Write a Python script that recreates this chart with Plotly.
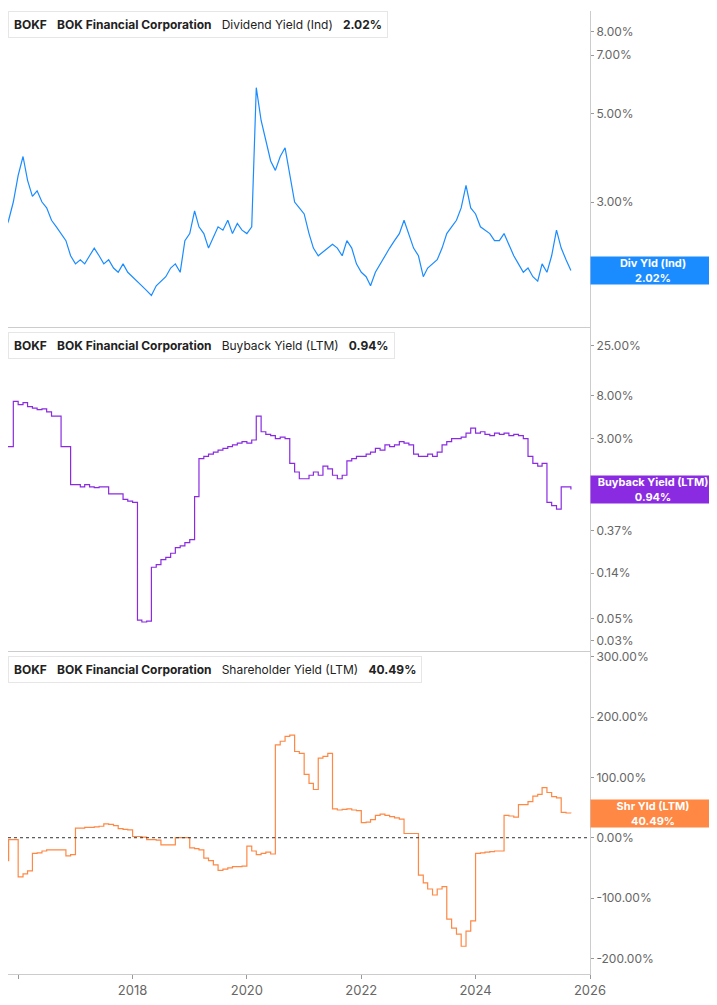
import math
import pandas as pd
import plotly.graph_objects as go

dates = pd.date_range("2015-09-01", periods=121, freq="MS")

div_yield = [2.6, 2.5, 2.7, 3.0,
             3.5, 3.9, 3.4, 3.1, 3.2, 3.0, 2.9, 2.7, 2.6, 2.5, 2.4, 2.2,
             2.1, 2.15, 2.1, 2.2, 2.3, 2.2, 2.1, 2.15, 2.05, 2.0, 2.1, 2.0,
             1.95, 1.9, 1.85, 1.8, 1.75, 1.85, 1.9, 1.95, 2.05, 2.1, 2.0, 2.4,
             2.5, 2.85, 2.6, 2.5, 2.3, 2.45, 2.6, 2.55, 2.7, 2.5, 2.65, 2.55,
             2.5, 2.6, 5.8, 4.8, 4.3, 3.8, 3.6, 3.9, 4.1, 3.5, 3.0, 2.9,
             2.8, 2.5, 2.3, 2.2, 2.25, 2.3, 2.35, 2.3, 2.2, 2.4, 2.3, 2.1,
             2.0, 1.95, 1.85, 2.0, 2.1, 2.2, 2.3, 2.4, 2.5, 2.7, 2.5, 2.3,
             2.2, 1.95, 2.05, 2.1, 2.15, 2.3, 2.5, 2.6, 2.7, 2.9, 3.3, 2.9,
             2.8, 2.6, 2.55, 2.5, 2.4, 2.4, 2.5, 2.35, 2.2, 2.1, 2.0, 2.05,
             1.95, 1.9, 2.1, 2.0, 2.2, 2.55, 2.3, 2.15, 2.02]

buyback_yield = [0.73, 2.5, 2.5, 7.0,
                 6.5, 6.8, 6.2, 6.0, 5.8, 5.9, 5.5, 5.0, 5.0, 2.5, 2.5, 1.05,
                 1.05, 1.0, 1.05, 1.0, 0.98, 1.0, 1.0, 0.85, 0.85, 0.85, 0.75, 0.72,
                 0.7, 0.048, 0.046, 0.047, 0.16, 0.17, 0.19, 0.2, 0.22, 0.25, 0.26, 0.28,
                 0.3, 0.8, 1.9, 2.0, 2.1, 2.2, 2.3, 2.4, 2.5, 2.6, 2.7, 2.8,
                 2.7, 2.9, 5.0, 3.5, 3.3, 3.2, 3.0, 3.1, 3.0, 1.7, 1.4, 1.2,
                 1.2, 1.3, 1.4, 1.3, 1.6, 1.5, 1.3, 1.2, 1.3, 1.8, 1.9, 2.0,
                 2.0, 2.1, 2.2, 2.4, 2.3, 2.6, 2.5, 2.6, 2.8, 2.7, 2.6, 2.1,
                 2.0, 2.0, 2.1, 2.0, 2.2, 2.6, 2.8, 3.0, 3.0, 3.1, 3.4, 3.8,
                 3.4, 3.5, 3.3, 3.2, 3.4, 3.3, 3.4, 3.2, 3.3, 3.2, 3.0, 2.0,
                 1.7, 1.6, 1.7, 0.7, 0.65, 0.6, 1.0, 1.0, 0.94]

shareholder_yield = [-38, -38, -3, -3,
                     -65, -60, -55, -26, -25, -22, -20, -20, -20, -20, -30, -28,
                     16, 16, 17, 17, 18, 19, 23, 22, 20, 15, 14, 13,
                     2, 2, 1, -3, -3, -4, -12, -12, -12, 0, 0, 0,
                     -17, -18, -20, -34, -38, -45, -54, -52, -50, -48, -48, -47,
                     -14, -22, -28, -26, -24, -27, 154, 160, 168, 170, 143, 140,
                     105, 90, 80, 132, 135, 140, 48, 46, 47, 48, 46, 45,
                     25, 26, 30, 37, 39, 37, 35, 33, 31, 7, 7, 7,
                     -62, -75, -85, -95, -85, -81, -135, -150, -160, -180, -155, -138,
                     -26, -25, -24, -23, -22, -22, 37, 36, 34, 55, 55, 60,
                     69, 72, 83, 75, 68, 66, 42, 41, 40.49]

div_ticks = [2, 3, 5, 7, 8]
bb_ticks = [0.03, 0.05, 0.14, 0.37, 1.0, 3, 8, 25]
sh_ticks = [-200, -100, 0, 100, 200, 300]

C1, C2, C3 = "#1a8cff", "#8a2be2", "#ff8844"
H = 966.0
doms = [[1 - 317 / H, 1], [1 - 642 / H, 1 - 318 / H], [0, 1 - 643 / H]]

fig = go.Figure()
fig.add_trace(go.Scatter(x=dates, y=div_yield, mode="lines", line=dict(color=C1, width=1.2), xaxis="x", yaxis="y"))
fig.add_trace(go.Scatter(x=dates, y=buyback_yield, mode="lines", line=dict(color=C2, width=1.2, shape="hv"), xaxis="x2", yaxis="y2"))
fig.add_trace(go.Scatter(x=dates, y=shareholder_yield, mode="lines", line=dict(color=C3, width=1.2, shape="hv"), xaxis="x3", yaxis="y3"))

xr = ["2015-10-28", "2026-01-01"]
common_x = dict(range=xr, showgrid=False, zeroline=False, showline=True, linecolor="#cccccc", linewidth=1)
ytick = dict(side="right", showgrid=False, zeroline=False, showline=True, linecolor="#cccccc",
             ticks="outside", ticklen=3, tickcolor="#999999", tickfont=dict(family="Inter", size=12, color="#666666"))

fig.update_layout(
    width=717, height=1005, margin=dict(l=0, r=135, t=0, b=39),
    plot_bgcolor="white", paper_bgcolor="white", showlegend=False,
    xaxis=dict(**common_x, anchor="y", showticklabels=False, matches="x3"),
    xaxis2=dict(**common_x, anchor="y2", showticklabels=False, matches="x3"),
    xaxis3=dict(**common_x, anchor="y3", ticks="outside", ticklen=4, tickcolor="#999999",
                dtick="M24", tick0="2016-01-01", tickformat="%Y",
                tickfont=dict(family="Inter", size=13, color="#666666")),
    yaxis=dict(**ytick, domain=doms[0], type="log", range=[0.164, 0.9555],
               tickvals=div_ticks, ticktext=[f"{v:.2f}%" for v in div_ticks]),
    yaxis2=dict(**ytick, domain=doms[1], type="log", range=[-1.624, 1.57],
                tickvals=bb_ticks, ticktext=[f"{v:.2f}%" for v in bb_ticks]),
    yaxis3=dict(**ytick, domain=doms[2], range=[-226, 308],
                tickvals=sh_ticks, ticktext=[f"{v:.2f}%" for v in sh_ticks]),
)

fig.add_shape(type="line", xref="x3 domain", yref="y3", x0=0, x1=1, y0=0, y1=0,
              line=dict(color="#333333", width=1, dash="dot"))

legends = [
    ("Dividend Yield (Ind)", f"{div_yield[-1]:.2f}%", C1, doms[0][1], 0),
    ("Buyback Yield (LTM)", f"{buyback_yield[-1]:.2f}%", C2, doms[1][1], 4),
    ("Shareholder Yield (LTM)", f"{shareholder_yield[-1]:.2f}%", C3, doms[2][1], 4),
]
for name, val, col, top, off in legends:
    ytop = top - off / H
    fig.add_annotation(xref="paper", yref="paper", x=0.0, y=ytop, xanchor="left", yanchor="top",
                       text=f"<b>BOKF</b>   <b>BOK Financial Corporation</b>   {name}   <b>{val}</b>",
                       showarrow=False, bgcolor="white", bordercolor="#e6e6e6", borderwidth=1, borderpad=5,
                       font=dict(family="Inter", size=12, color="#222222"))
    fig.add_shape(type="rect", xref="paper", yref="paper", x0=0.0, x1=0.0055,
                  y0=ytop - 24 / H, y1=ytop - 1 / H, fillcolor=col, line=dict(width=0))

labels = [
    ("Div Yld (Ind)", div_yield[-1], C1, "y", True),
    ("Buyback Yield (LTM)", buyback_yield[-1], C2, "y2", True),
    ("Shr Yld (LTM)", shareholder_yield[-1], C3, "y3", False),
]
for name, v, col, yr, islog in labels:
    fig.add_annotation(xref="paper", yref=yr, x=1.0, y=math.log10(v) if islog else v,
                       xanchor="left", yanchor="middle",
                       text=f"<b>{name}</b><br><b>{v:.2f}%</b>", showarrow=False,
                       bgcolor=col, width=124, height=27, borderpad=0, align="center",
                       font=dict(family="Inter", size=11, color="white"))

fig.write_html("out.html")
